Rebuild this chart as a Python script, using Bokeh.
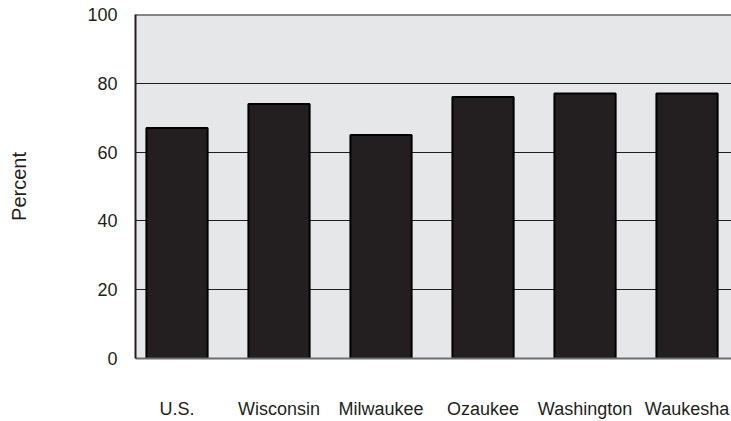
from bokeh.plotting import figure
from bokeh.models import FixedTicker, Span
from bokeh.embed import file_html
from bokeh.resources import INLINE

categories = ["U.S.", "Wisconsin", "Milwaukee", "Ozaukee", "Washington", "Waukesha"]
percent = [67, 74, 65, 76, 77, 77]
y_ticks = [0, 20, 40, 60, 80, 100]

xs = list(range(len(categories)))

p = figure(width=731, height=421, output_backend="svg", toolbar_location=None,
           x_range=(-0.407, 5.436), y_range=(0, 100),
           min_border_left=135, min_border_top=14, min_border_right=0, min_border_bottom=0)
p.background_fill_color = "#e6e7e8"
p.border_fill_color = "white"
p.outline_line_color = None

p.vbar(x=xs, top=percent, width=0.6, bottom=0, fill_color="#231f20",
       line_color="black", line_width=2)

p.add_layout(Span(location=100, dimension="width", line_color="#231f20", line_width=2))

# grid
p.xgrid.grid_line_color = None
p.ygrid.ticker = FixedTicker(ticks=[20, 40, 60, 80])
p.ygrid.grid_line_color = "#231f20"
p.ygrid.grid_line_width = 1
p.ygrid.level = "underlay"

# x axis
p.xaxis.ticker = FixedTicker(ticks=xs)
p.xaxis.major_label_overrides = {i: c for i, c in zip(xs, categories)}
p.xaxis.major_tick_line_color = None
p.xaxis.minor_tick_line_color = None
p.xaxis.axis_line_color = "#6d6e71"
p.xaxis.axis_line_width = 2
p.xaxis.major_label_standoff = 34
p.xaxis.major_label_text_font = "Liberation Sans"
p.xaxis.major_label_text_font_size = "18px"
p.xaxis.major_label_text_color = "#231f20"

# y axis
p.yaxis.ticker = FixedTicker(ticks=y_ticks)
p.yaxis.major_tick_line_color = None
p.yaxis.minor_tick_line_color = None
p.yaxis.axis_line_color = "#231f20"
p.yaxis.axis_line_width = 2
p.yaxis.major_label_standoff = 12
p.yaxis.major_label_text_font = "Liberation Sans"
p.yaxis.major_label_text_font_size = "18px"
p.yaxis.major_label_text_color = "#231f20"
p.yaxis.axis_label = "Percent"
p.yaxis.axis_label_standoff = 54
p.yaxis.axis_label_text_font = "Liberation Sans"
p.yaxis.axis_label_text_font_size = "20px"
p.yaxis.axis_label_text_font_style = "normal"
p.yaxis.axis_label_text_color = "#231f20"

open("out.html", "w").write(file_html(p, INLINE))
